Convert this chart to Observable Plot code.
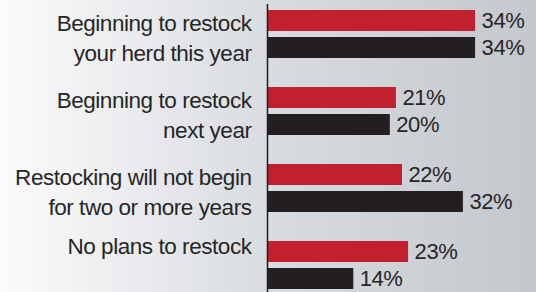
<!DOCTYPE html>
<html>
<head>
<meta charset="utf-8">
<script src="https://cdn.jsdelivr.net/npm/d3@7"></script>
<script src="https://cdn.jsdelivr.net/npm/@observablehq/plot@0.6"></script>
<style>
  html, body { margin: 0; padding: 0; }
  body { width: 536px; height: 292px; overflow: hidden; }
  svg text { letter-spacing: -0.45px; }
</style>
</head>
<body>
<div id="chart"></div>
<script>
const categories = [
  "Beginning to restock\nyour herd this year",
  "Beginning to restock\nnext year",
  "Restocking will not begin\nfor two or more years",
  "No plans to restock"
];
const redValues = [34, 21, 22, 23];
const blackValues = [34, 20, 32, 14];

const redData = categories.map((c, i) => ({category: c, value: redValues[i]}));
const blackData = categories.map((c, i) => ({category: c, value: blackValues[i]}));
const twoLine = categories.filter(c => c.includes("\n"));
const oneLine = categories.filter(c => !c.includes("\n"));

const font = "'Liberation Sans', Arial, sans-serif";
const textColor = "#262626";

const chart = Plot.plot({
  width: 536,
  height: 292,
  marginLeft: 268,
  marginRight: 0,
  marginTop: 4,
  marginBottom: 0,
  x: {domain: [0, 44], axis: null},
  y: {domain: categories, paddingInner: 0.3715, paddingOuter: 0.0518, align: 0.75, axis: null},
  style: {
    fontFamily: font,
    background: "linear-gradient(to right, #fbfbfc 0%, #e6e8eb 30%, #d6d9dd 55%, #c4c7cc 100%)",
    color: textColor,
    overflow: "visible"
  },
  marks: [
    Plot.barX(redData, {x: "value", y: "category", fill: "#c1202f", insetBottom: 27}),
    Plot.barX(blackData, {x: "value", y: "category", fill: "#231f20", insetTop: 27}),
    Plot.text(redData, {x: "value", y: "category", text: d => d.value + "%", textAnchor: "start", dx: 6, dy: -13.5, fontSize: 22, fill: textColor}),
    Plot.text(blackData, {x: "value", y: "category", text: d => d.value + "%", textAnchor: "start", dx: 6, dy: 13.5, fontSize: 22, fill: textColor}),
    Plot.text(twoLine, {y: d => d, text: d => d, frameAnchor: "left", textAnchor: "end", dx: -17, dy: 1.5, lineHeight: 1.36, fontSize: 22.5, fill: textColor}),
    Plot.text(oneLine, {y: d => d, text: d => d, frameAnchor: "left", textAnchor: "end", dx: -17, dy: -19, fontSize: 22.5, fill: textColor}),
    Plot.ruleX([0], {stroke: "#1e1e1e", strokeWidth: 1.5, dx: -1})
  ]
});
document.getElementById("chart").appendChild(chart);
</script>
</body>
</html>
